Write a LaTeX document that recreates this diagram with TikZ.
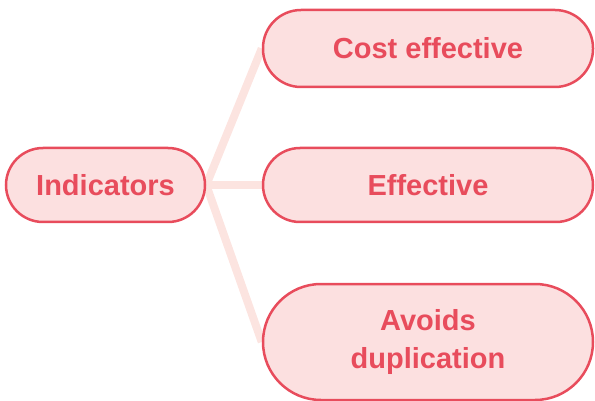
\documentclass[tikz,border=0pt]{standalone}
\usepackage{fontspec}
\setmainfont{Liberation Sans}
\usetikzlibrary{positioning,backgrounds}
\definecolor{accentred}{RGB}{232,76,92}
\definecolor{softpink}{RGB}{252,224,224}
\definecolor{linkpink}{RGB}{252,228,224}
\begin{document}
\begin{tikzpicture}[x=1pt,y=1pt,
    every node/.style={font=\fontsize{29}{38}\selectfont\bfseries},
    pill/.style={draw=accentred, line width=2.5pt, fill=softpink, text=accentred,
      align=center, inner sep=0pt, rounded corners=#1},
    link/.style={linkpink, line width=8pt}]
        \useasboundingbox (0,0) rectangle (595,-401);
        \node[pill=37pt, minimum width=199pt, minimum height=74pt] (ind) at (105.5,-185) {Indicators};
        \node[pill=38pt, minimum width=330pt, minimum height=77pt] (cost) at (428,-48.5) {Cost effective};
        \node[pill=37pt, minimum width=330pt, minimum height=74pt] (eff) at (428,-185) {Effective};
        \node[pill=58pt, minimum width=330pt, minimum height=116pt] (avo) at (428,-342) {Avoids\\duplication};
        % links behind the pills
        \begin{scope}[on background layer]
          \draw[link] (ind.east) -- (cost.west);
          \draw[link] (ind.east) -- (eff.west);
          \draw[link] (ind.east) -- (avo.west);
        \end{scope}
      \end{tikzpicture}
\end{document}
